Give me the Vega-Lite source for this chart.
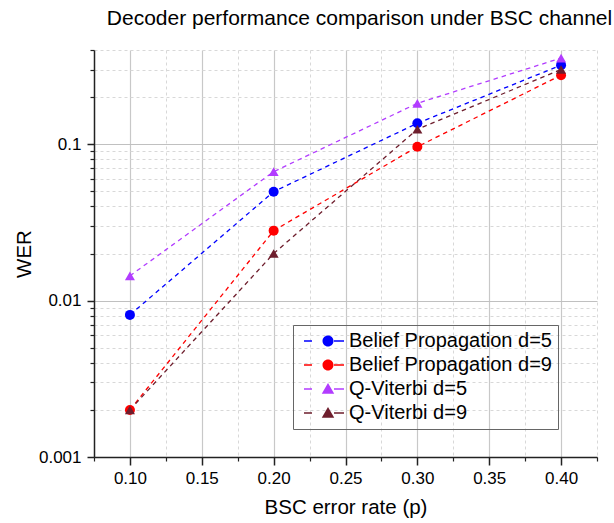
{
  "$schema": "https://vega.github.io/schema/vega-lite/v6.json",
  "width": 503,
  "height": 407,
  "autosize": {"type": "none"},
  "padding": {"left": 94, "top": 50, "right": 17, "bottom": 66},
  "background": "white",
  "config": {
    "font": "Liberation Sans",
    "view": {"stroke": null},
    "legend": {
      "title": null,
      "orient": "none",
      "legendX": 199,
      "legendY": 275,
      "padding": 6,
      "strokeColor": "#666666",
      "labelFont": "Liberation Sans",
      "labelFontSize": 20,
      "labelColor": "black",
      "labelLimit": 0,
      "labelOffset": 30,
      "symbolSize": 100,
      "symbolOpacity": 1,
      "symbolStrokeWidth": 0,
      "rowPadding": 4
    }
  },
  "title": {
    "text": "Decoder performance comparison under BSC channel",
    "font": "Liberation Sans",
    "fontSize": 21,
    "fontWeight": "normal",
    "color": "black",
    "anchor": "middle",
    "frame": "group",
    "dx": 14,
    "offset": 20
  },
  "data": {
    "values": [
      {"p": 0.1, "wer": 0.0081, "series": "Belief Propagation d=5"},
      {"p": 0.2, "wer": 0.0497, "series": "Belief Propagation d=5"},
      {"p": 0.3, "wer": 0.136, "series": "Belief Propagation d=5"},
      {"p": 0.4, "wer": 0.32, "series": "Belief Propagation d=5"},
      {"p": 0.1, "wer": 0.002, "series": "Belief Propagation d=9"},
      {"p": 0.2, "wer": 0.028, "series": "Belief Propagation d=9"},
      {"p": 0.3, "wer": 0.0963, "series": "Belief Propagation d=9"},
      {"p": 0.4, "wer": 0.276, "series": "Belief Propagation d=9"},
      {"p": 0.1, "wer": 0.0144, "series": "Q-Viterbi d=5"},
      {"p": 0.2, "wer": 0.0667, "series": "Q-Viterbi d=5"},
      {"p": 0.3, "wer": 0.1825, "series": "Q-Viterbi d=5"},
      {"p": 0.4, "wer": 0.355, "series": "Q-Viterbi d=5"},
      {"p": 0.1, "wer": 0.002, "series": "Q-Viterbi d=9"},
      {"p": 0.2, "wer": 0.02, "series": "Q-Viterbi d=9"},
      {"p": 0.3, "wer": 0.1245, "series": "Q-Viterbi d=9"},
      {"p": 0.4, "wer": 0.30, "series": "Q-Viterbi d=9"}
    ]
  },
  "layer": [
    {
      "mark": {"type": "line", "strokeDash": [4.5, 4], "strokeWidth": 1.3},
      "encoding": {
        "x": {
          "field": "p",
          "type": "quantitative",
          "scale": {"domain": [0.075, 0.425], "nice": false, "zero": false},
          "axis": {
            "orient": "bottom",
            "values": [0.075, 0.125, 0.175, 0.225, 0.275, 0.325, 0.375, 0.425],
            "labels": false,
            "title": null,
            "domain": false,
            "tickSize": 4,
            "tickWidth": 1.2,
            "tickColor": "#222222",
            "grid": true,
            "gridColor": "#d8d8d8",
            "gridDash": [3, 3],
            "gridWidth": 1
          }
        },
        "y": {
          "field": "wer",
          "type": "quantitative",
          "scale": {"type": "log", "domain": [0.001, 0.4], "nice": false},
          "axis": {
            "orient": "left",
            "values": [0.002, 0.003, 0.004, 0.005, 0.006, 0.007, 0.008, 0.009, 0.02, 0.03, 0.04, 0.05, 0.06, 0.07, 0.08, 0.09, 0.2, 0.3, 0.4],
            "labels": false,
            "title": null,
            "domain": false,
            "tickSize": 4,
            "tickWidth": 1.2,
            "tickColor": "#222222",
            "grid": true,
            "gridColor": "#d8d8d8",
            "gridDash": [3, 3],
            "gridWidth": 1
          }
        },
        "color": {
          "field": "series",
          "type": "nominal",
          "scale": {
            "domain": ["Belief Propagation d=5", "Belief Propagation d=9", "Q-Viterbi d=5", "Q-Viterbi d=9"],
            "range": ["#0000ff", "#ff0000", "#b23cff", "#6e1e2d"]
          },
          "legend": null
        }
      }
    },
    {
      "mark": {"type": "point", "filled": true, "opacity": 1},
      "encoding": {
        "x": {
          "field": "p",
          "type": "quantitative",
          "axis": {
            "orient": "bottom",
            "values": [0.1, 0.15, 0.2, 0.25, 0.3, 0.35, 0.4],
            "format": ".2f",
            "title": "BSC error rate (p)",
            "titleFont": "Liberation Sans",
            "titleFontSize": 20.5,
            "titleFontWeight": "normal",
            "titleColor": "black",
            "titlePadding": 11,
            "labelFont": "Liberation Sans",
            "labelFontSize": 17,
            "labelColor": "black",
            "labelPadding": 5,
            "domain": true,
            "domainColor": "#222222",
            "domainWidth": 1.5,
            "tickSize": 8,
            "tickWidth": 1.5,
            "tickColor": "#222222",
            "grid": true,
            "gridColor": "#c8c8c8",
            "gridWidth": 1.2
          }
        },
        "y": {
          "field": "wer",
          "type": "quantitative",
          "axis": {
            "orient": "left",
            "values": [0.001, 0.01, 0.1],
            "format": ".3~f",
            "title": "WER",
            "titleFont": "Liberation Sans",
            "titleFontSize": 20.5,
            "titleFontWeight": "normal",
            "titleColor": "black",
            "titlePadding": 4,
            "labelFont": "Liberation Sans",
            "labelFontSize": 17,
            "labelColor": "black",
            "labelPadding": 6,
            "domain": true,
            "domainColor": "#222222",
            "domainWidth": 1.5,
            "tickSize": 7,
            "tickWidth": 1.5,
            "tickColor": "#222222",
            "grid": true,
            "gridColor": "#c0c0c0",
            "gridWidth": 1
          }
        },
        "color": {
          "field": "series",
          "type": "nominal",
          "scale": {
            "domain": ["Belief Propagation d=5", "Belief Propagation d=9", "Q-Viterbi d=5", "Q-Viterbi d=9"],
            "range": ["#0000ff", "#ff0000", "#b23cff", "#6e1e2d"]
          },
          "legend": null
        },
        "shape": {
          "field": "series",
          "type": "nominal",
          "scale": {
            "domain": ["Belief Propagation d=5", "Belief Propagation d=9", "Q-Viterbi d=5", "Q-Viterbi d=9"],
            "range": ["circle", "circle", "triangle-up", "triangle-up"]
          },
          "legend": null
        },
        "size": {
          "field": "series",
          "type": "nominal",
          "scale": {
            "domain": ["Belief Propagation d=5", "Belief Propagation d=9", "Q-Viterbi d=5", "Q-Viterbi d=9"],
            "range": [100, 100, 135, 135]
          },
          "legend": null
        }
      }
    },
    {
      "mark": {"type": "point", "filled": true, "opacity": 0},
      "encoding": {
        "x": {"field": "p", "type": "quantitative", "axis": null},
        "y": {"field": "wer", "type": "quantitative", "axis": null},
        "color": {
          "field": "series",
          "type": "nominal",
          "scale": {
            "domain": ["Belief Propagation d=5", "Belief Propagation d=9", "Q-Viterbi d=5", "Q-Viterbi d=9"],
            "range": ["#0000ff", "#ff0000", "#b23cff", "#6e1e2d"]
          }
        },
        "shape": {
          "field": "series",
          "type": "nominal",
          "scale": {
            "domain": ["Belief Propagation d=5", "Belief Propagation d=9", "Q-Viterbi d=5", "Q-Viterbi d=9"],
            "range": [
              "M-1,-0.15H0.6V0.15H-1ZM5,-0.15H7V0.15H5ZM2.7,0A1.1,1.1 0 1,0 4.9,0A1.1,1.1 0 1,0 2.7,0Z",
              "M-1,-0.15H0.6V0.15H-1ZM5,-0.15H7V0.15H5ZM2.7,0A1.1,1.1 0 1,0 4.9,0A1.1,1.1 0 1,0 2.7,0Z",
              "M-1,-0.15H0.6V0.15H-1ZM5,-0.15H7V0.15H5ZM3.8,-1.2L5.05,0.95L2.55,0.95Z",
              "M-1,-0.15H0.6V0.15H-1ZM5,-0.15H7V0.15H5ZM3.8,-1.2L5.05,0.95L2.55,0.95Z"
            ]
          }
        }
      }
    }
  ],
  "resolve": {
    "axis": {"x": "independent", "y": "independent"},
    "scale": {"color": "independent", "shape": "independent"}
  }
}
